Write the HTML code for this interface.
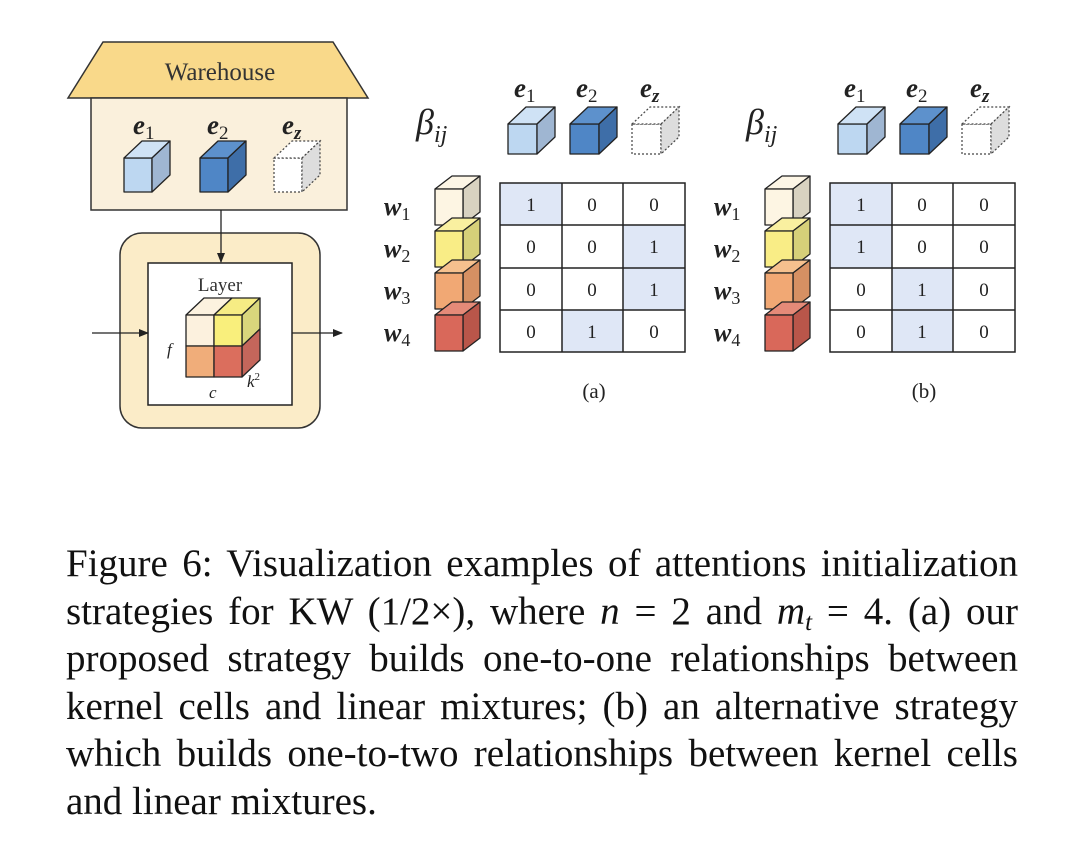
<!DOCTYPE html>
<html><head><meta charset="utf-8"><style>
html,body{margin:0;padding:0;background:#fff;}
body{width:1070px;height:846px;position:relative;overflow:hidden;font-family:"Liberation Serif",serif;}
#cap{position:absolute;left:66px;top:540px;width:952px;font-size:39px;color:#111;}
#cap div{height:47.6px;line-height:47.6px;text-align:justify;text-align-last:justify;white-space:nowrap;}
#cap sub{font-size:25px;line-height:0;vertical-align:-6px;}
.s{font-style:normal;font-weight:normal;}
</style></head><body>
<svg width="1070" height="846" style="position:absolute;left:0;top:0" font-family="Liberation Serif, serif">
<defs>
<marker id="ar" markerWidth="10" markerHeight="10" refX="9" refY="5" orient="auto" markerUnits="userSpaceOnUse"><path d="M0,1 L10,5 L0,9 z" fill="#222"/></marker>
</defs>
<polygon points="103,42 333,42 368,98 68,98" fill="#f9d98a" stroke="#333" stroke-width="1.5"/>
<text x="220" y="80" font-size="25" text-anchor="middle" fill="#333">Warehouse</text>
<rect x="91" y="98" width="256" height="112" fill="#faf0dc" stroke="#333" stroke-width="1.5"/>
<g font-weight="bold" font-style="italic" font-size="27" fill="#222">
<text x="133" y="134">e<tspan class="s" font-size="19" dy="5">1</tspan></text>
<text x="207" y="134">e<tspan class="s" font-size="19" dy="5">2</tspan></text>
<text x="282" y="134">e<tspan font-size="19" dy="5">z</tspan></text>
</g>
<g stroke="#222" stroke-width="1.3" stroke-linejoin="round">
<rect x="124" y="158" width="28" height="34" fill="#bdd7f1"/>
<polygon points="124,158 142,141 170,141 152,158" fill="#cfe2f5"/>
<polygon points="152,158 170,141 170,175 152,192" fill="#9fb6d2"/>
<rect x="200" y="158" width="28" height="34" fill="#4f86c6"/>
<polygon points="200,158 218,141 246,141 228,158" fill="#5d91cc"/>
<polygon points="228,158 246,141 246,175 228,192" fill="#3e6ea8"/>
</g>
<g stroke="#444" stroke-width="1.2" stroke-dasharray="2,2">
<rect x="274" y="158" width="28" height="34" fill="#fff"/>
<polygon points="274,158 292,141 320,141 302,158" fill="#fff"/>
<polygon points="302,158 320,141 320,175 302,192" fill="#ddd"/>
</g>
<rect x="120" y="233" width="200" height="195" rx="22" fill="#fbecc8" stroke="#333" stroke-width="1.5"/>
<rect x="148" y="263" width="144" height="142" fill="#fff" stroke="#222" stroke-width="1.5"/>
<line x1="221" y1="210" x2="221" y2="262" stroke="#222" stroke-width="1.3" marker-end="url(#ar)"/>
<text x="220" y="291" font-size="19" text-anchor="middle" fill="#333">Layer</text>
<line x1="92" y1="333" x2="148" y2="333" stroke="#222" stroke-width="1.3" marker-end="url(#ar)"/>
<line x1="292" y1="333" x2="342" y2="333" stroke="#222" stroke-width="1.3" marker-end="url(#ar)"/>
<g stroke="#222" stroke-width="1.3" stroke-linejoin="round">
<polygon points="186,315 204,298 232,298 214,315" fill="#fcf2df"/>
<polygon points="214,315 232,298 260,298 242,315" fill="#f6ec84"/>
<polygon points="242,315 260,298 260,329 242,346" fill="#d9d67c"/>
<polygon points="242,346 260,329 260,360 242,377" fill="#c4665b"/>
<rect x="186" y="315" width="28" height="31" fill="#fcf1de"/>
<rect x="214" y="315" width="28" height="31" fill="#f9ef7c"/>
<rect x="186" y="346" width="28" height="31" fill="#f0ad7a"/>
<rect x="214" y="346" width="28" height="31" fill="#db6e5d"/>
</g>
<g font-style="italic" font-size="17" fill="#222">
<text x="167" y="355">f</text>
<text x="209" y="398">c</text>
<text x="247" y="387">k<tspan class="s" font-size="11" dy="-7">2</tspan></text>
</g>

<g id="pa">
<text x="416" y="134" font-size="36" font-style="italic" fill="#222">β<tspan font-size="24" dy="8">ij</tspan></text>
<g font-weight="bold" font-style="italic" font-size="27" fill="#222">
<text x="514" y="97">e<tspan class="s" font-size="19" dy="5">1</tspan></text>
<text x="576" y="97">e<tspan class="s" font-size="19" dy="5">2</tspan></text>
<text x="640" y="97">e<tspan font-size="19" dy="5">z</tspan></text>
</g>
<g stroke="#222" stroke-width="1.3" stroke-linejoin="round">
<rect x="508" y="124" width="29" height="30" fill="#bdd7f1"/>
<polygon points="508,124 526,107 555,107 537,124" fill="#cfe2f5"/>
<polygon points="537,124 555,107 555,137 537,154" fill="#9fb6d2"/>
<rect x="570" y="124" width="29" height="30" fill="#4f86c6"/>
<polygon points="570,124 588,107 617,107 599,124" fill="#5d91cc"/>
<polygon points="599,124 617,107 617,137 599,154" fill="#3e6ea8"/>
</g>
<g stroke="#444" stroke-width="1.2" stroke-dasharray="2,2">
<rect x="632" y="124" width="29" height="30" fill="#fff"/>
<polygon points="632,124 650,107 679,107 661,124" fill="#fff"/>
<polygon points="661,124 679,107 679,137 661,154" fill="#ddd"/>
</g>
<g font-weight="bold" font-style="italic" font-size="26" fill="#222">
<text x="384" y="215">w<tspan class="s" font-size="18" dy="5">1</tspan></text>
<text x="384" y="257">w<tspan class="s" font-size="18" dy="5">2</tspan></text>
<text x="384" y="299">w<tspan class="s" font-size="18" dy="5">3</tspan></text>
<text x="384" y="341">w<tspan class="s" font-size="18" dy="5">4</tspan></text>
</g>
<g stroke="#222" stroke-width="1.3" stroke-linejoin="round">
<polygon points="435,189 452,176 480,176 463,189" fill="#fdf6e6"/>
<polygon points="463,189 480,176 480,212 463,225" fill="#d8d2c0"/>
<rect x="435" y="189" width="28" height="36" fill="#fdf5e3"/>
<polygon points="435,231 452,218 480,218 463,231" fill="#f9f0a0"/>
<polygon points="463,231 480,218 480,254 463,267" fill="#d6d079"/>
<rect x="435" y="231" width="28" height="36" fill="#f9ed86"/>
<polygon points="435,273 452,260 480,260 463,273" fill="#f5c08e"/>
<polygon points="463,273 480,260 480,296 463,309" fill="#d69063"/>
<rect x="435" y="273" width="28" height="36" fill="#f1a874"/>
<polygon points="435,315 452,302 480,302 463,315" fill="#e58a78"/>
<polygon points="463,315 480,302 480,338 463,351" fill="#b9564a"/>
<rect x="435" y="315" width="28" height="36" fill="#d9685a"/>
</g>
<g fill="#dfe7f6">
<rect x="500" y="183" width="62" height="42"/>
<rect x="623" y="225" width="62" height="43"/>
<rect x="623" y="268" width="62" height="42"/>
<rect x="562" y="310" width="61" height="42"/>
</g>
<g stroke="#222" stroke-width="1.5" fill="none">
<rect x="500" y="183" width="185" height="169"/>
<line x1="562" y1="183" x2="562" y2="352"/><line x1="623" y1="183" x2="623" y2="352"/>
<line x1="500" y1="225" x2="685" y2="225"/><line x1="500" y1="268" x2="685" y2="268"/><line x1="500" y1="310" x2="685" y2="310"/>
</g>
<g font-size="19" text-anchor="middle" fill="#222">
<text x="531" y="211">1</text><text x="592" y="211">0</text><text x="654" y="211">0</text>
<text x="531" y="253">0</text><text x="592" y="253">0</text><text x="654" y="253">1</text>
<text x="531" y="296">0</text><text x="592" y="296">0</text><text x="654" y="296">1</text>
<text x="531" y="338">0</text><text x="592" y="338">1</text><text x="654" y="338">0</text>
</g>
<text x="594" y="398" font-size="21" text-anchor="middle" fill="#222">(a)</text>
</g>

<g transform="translate(330,0)">
<text x="416" y="134" font-size="36" font-style="italic" fill="#222">β<tspan font-size="24" dy="8">ij</tspan></text>
<g font-weight="bold" font-style="italic" font-size="27" fill="#222">
<text x="514" y="97">e<tspan class="s" font-size="19" dy="5">1</tspan></text>
<text x="576" y="97">e<tspan class="s" font-size="19" dy="5">2</tspan></text>
<text x="640" y="97">e<tspan font-size="19" dy="5">z</tspan></text>
</g>
<g stroke="#222" stroke-width="1.3" stroke-linejoin="round">
<rect x="508" y="124" width="29" height="30" fill="#bdd7f1"/>
<polygon points="508,124 526,107 555,107 537,124" fill="#cfe2f5"/>
<polygon points="537,124 555,107 555,137 537,154" fill="#9fb6d2"/>
<rect x="570" y="124" width="29" height="30" fill="#4f86c6"/>
<polygon points="570,124 588,107 617,107 599,124" fill="#5d91cc"/>
<polygon points="599,124 617,107 617,137 599,154" fill="#3e6ea8"/>
</g>
<g stroke="#444" stroke-width="1.2" stroke-dasharray="2,2">
<rect x="632" y="124" width="29" height="30" fill="#fff"/>
<polygon points="632,124 650,107 679,107 661,124" fill="#fff"/>
<polygon points="661,124 679,107 679,137 661,154" fill="#ddd"/>
</g>
<g font-weight="bold" font-style="italic" font-size="26" fill="#222">
<text x="384" y="215">w<tspan class="s" font-size="18" dy="5">1</tspan></text>
<text x="384" y="257">w<tspan class="s" font-size="18" dy="5">2</tspan></text>
<text x="384" y="299">w<tspan class="s" font-size="18" dy="5">3</tspan></text>
<text x="384" y="341">w<tspan class="s" font-size="18" dy="5">4</tspan></text>
</g>
<g stroke="#222" stroke-width="1.3" stroke-linejoin="round">
<polygon points="435,189 452,176 480,176 463,189" fill="#fdf6e6"/>
<polygon points="463,189 480,176 480,212 463,225" fill="#d8d2c0"/>
<rect x="435" y="189" width="28" height="36" fill="#fdf5e3"/>
<polygon points="435,231 452,218 480,218 463,231" fill="#f9f0a0"/>
<polygon points="463,231 480,218 480,254 463,267" fill="#d6d079"/>
<rect x="435" y="231" width="28" height="36" fill="#f9ed86"/>
<polygon points="435,273 452,260 480,260 463,273" fill="#f5c08e"/>
<polygon points="463,273 480,260 480,296 463,309" fill="#d69063"/>
<rect x="435" y="273" width="28" height="36" fill="#f1a874"/>
<polygon points="435,315 452,302 480,302 463,315" fill="#e58a78"/>
<polygon points="463,315 480,302 480,338 463,351" fill="#b9564a"/>
<rect x="435" y="315" width="28" height="36" fill="#d9685a"/>
</g>
<g fill="#dfe7f6">
<rect x="500" y="183" width="62" height="42"/>
<rect x="500" y="225" width="62" height="43"/>
<rect x="562" y="268" width="61" height="42"/>
<rect x="562" y="310" width="61" height="42"/>
</g>
<g stroke="#222" stroke-width="1.5" fill="none">
<rect x="500" y="183" width="185" height="169"/>
<line x1="562" y1="183" x2="562" y2="352"/><line x1="623" y1="183" x2="623" y2="352"/>
<line x1="500" y1="225" x2="685" y2="225"/><line x1="500" y1="268" x2="685" y2="268"/><line x1="500" y1="310" x2="685" y2="310"/>
</g>
<g font-size="19" text-anchor="middle" fill="#222">
<text x="531" y="211">1</text><text x="592" y="211">0</text><text x="654" y="211">0</text>
<text x="531" y="253">1</text><text x="592" y="253">0</text><text x="654" y="253">0</text>
<text x="531" y="296">0</text><text x="592" y="296">1</text><text x="654" y="296">0</text>
<text x="531" y="338">0</text><text x="592" y="338">1</text><text x="654" y="338">0</text>
</g>
<text x="594" y="398" font-size="21" text-anchor="middle" fill="#222">(b)</text>
</g>
</svg>
<div id="cap">
<div>Figure 6: Visualization examples of attentions initialization</div>
<div>strategies for KW (1/2×), where <i>n</i> = 2 and <i>m</i><sub><i>t</i></sub> = 4. (a) our</div>
<div>proposed strategy builds one-to-one relationships between</div>
<div>kernel cells and linear mixtures; (b) an alternative strategy</div>
<div>which builds one-to-two relationships between kernel cells</div>
<div style="text-align-last:left">and linear mixtures.</div>
</div>
</body></html>
